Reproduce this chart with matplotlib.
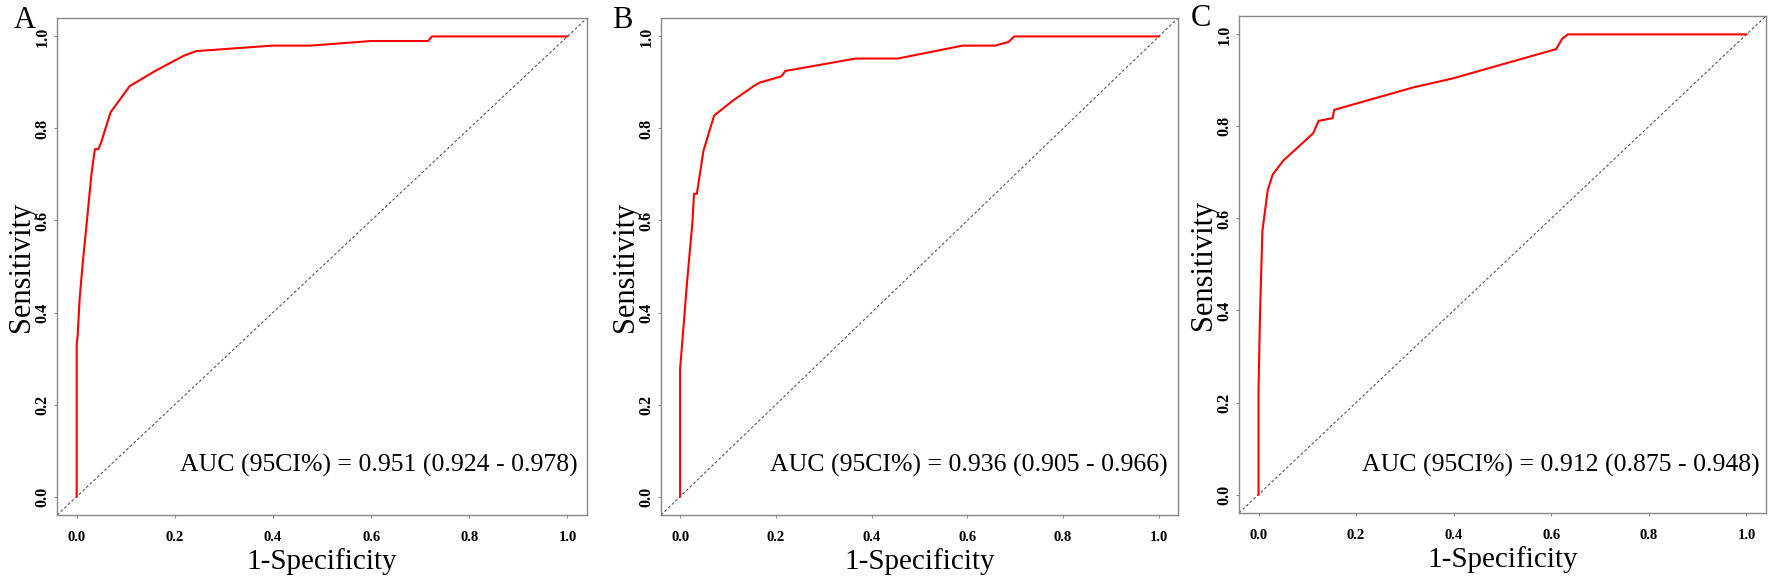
import matplotlib
matplotlib.use('Agg')
import matplotlib.pyplot as plt

plt.rcParams['font.family'] = ['Liberation Serif', 'DejaVu Serif']

# ROC points (1-specificity, sensitivity)
fpr_a = [0, 0, 0.002, 0.006, 0.0125, 0.020, 0.030, 0.037, 0.044, 0.050, 0.069, 0.108,
         0.160, 0.218, 0.243, 0.398, 0.476, 0.600, 0.716, 0.724, 1.0]
tpr_a = [0, 0.33, 0.35, 0.43, 0.51, 0.59, 0.70, 0.755, 0.755, 0.77, 0.835, 0.892,
         0.925, 0.958, 0.968, 0.980, 0.980, 0.990, 0.990, 1.0, 1.0]

fpr_b = [0, 0, 0.0056, 0.015, 0.0256, 0.029, 0.035, 0.0487, 0.071, 0.111, 0.155, 0.167,
         0.211, 0.220, 0.367, 0.455, 0.590, 0.658, 0.686, 0.698, 1.0]
tpr_b = [0, 0.278, 0.35, 0.472, 0.594, 0.658, 0.658, 0.751, 0.828, 0.861, 0.893, 0.900,
         0.913, 0.925, 0.952, 0.952, 0.980, 0.980, 0.988, 1.0, 1.0]

fpr_c = [0, 0, 0.003, 0.008, 0.019, 0.029, 0.0506, 0.112, 0.123, 0.152, 0.155, 0.318,
         0.397, 0.610, 0.622, 0.634, 1.0]
tpr_c = [0, 0.225, 0.387, 0.573, 0.662, 0.695, 0.7255, 0.785, 0.812, 0.818, 0.836, 0.885,
         0.904, 0.968, 0.990, 1.0, 1.0]

panels = ['A', 'B', 'C']
auc_text = ['AUC (95CI%) = 0.951 (0.924 - 0.978)',
            'AUC (95CI%) = 0.936 (0.905 - 0.966)',
            'AUC (95CI%) = 0.912 (0.875 - 0.948)']
ticks = [0.0, 0.2, 0.4, 0.6, 0.8, 1.0]
tick_labels = ['0.0', '0.2', '0.4', '0.6', '0.8', '1.0']

curves = [(fpr_a, tpr_a), (fpr_b, tpr_b), (fpr_c, tpr_c)]
boxes = [[0.0322, 0.1166, 0.2991, 0.8525],
         [0.3730, 0.1166, 0.2918, 0.8525],
         [0.6992, 0.1201, 0.2974, 0.8525]]
letter_pos = [(25, 20), (622, 20), (1201, 19)]
auc_pos = [(1.02, 0.067), (1.019, 0.067), (1.027, 0.063)]

fig = plt.figure(figsize=(17.72, 5.83), dpi=100)

for i in range(3):
    ax = fig.add_axes(boxes[i])
    fpr, tpr = curves[i]
    ax.axline((0, 0), (1, 1), color='#555555', lw=0.8, linestyle=(0, (2.5, 2)))
    ax.plot(fpr, tpr, color='red', lw=1.5)
    ax.set_xlim(-0.04, 1.04)
    ax.set_ylim(-0.04, 1.04)
    for s in ax.spines.values():
        s.set_color('#888888')
        s.set_linewidth(1.0)
    ax.set_xticks(ticks)
    ax.set_xticklabels(tick_labels, fontsize=10.5, fontweight='bold')
    ax.set_yticks(ticks)
    ax.set_yticklabels(tick_labels, fontsize=11.5, fontweight='bold', rotation=90, va='center')
    ax.tick_params(axis='x', length=2.5, width=0.8, color='#888888', pad=9)
    ax.tick_params(axis='y', length=2.5, width=0.8, color='#888888', pad=2)
    ax.set_xlabel('1-Specificity', fontsize=21, labelpad=3)
    ax.set_ylabel('Sensitivity', fontsize=22, labelpad=-1)
    ax.text(auc_pos[i][0], auc_pos[i][1], auc_text[i], fontsize=18.5,
            ha='right', va='center')
    lx, ly = letter_pos[i]
    fig.text(lx / 1772, 1 - ly / 583, panels[i], fontsize=22, ha='center', va='center')

fig.savefig('out.png', dpi=100)
